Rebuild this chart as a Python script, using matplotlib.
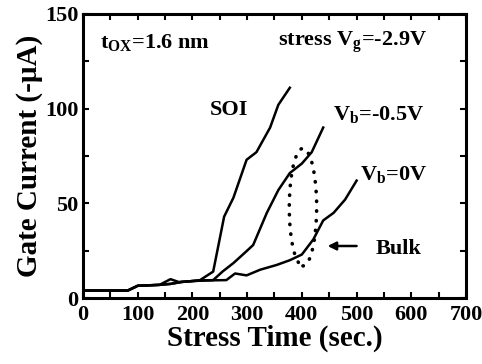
import matplotlib.pyplot as plt
from matplotlib.patches import Ellipse
from matplotlib.ticker import MultipleLocator
import numpy as np

################################################################################
# Data                                          #
################################################################################
soi_t = [0, 82, 100, 140, 150, 160, 175, 200, 214, 238, 258, 275, 299, 317, 342, 357, 378]
soi_i = [4, 4, 6.5, 7, 8.5, 10, 8.5, 9, 9.5, 14, 43, 53, 73, 77, 90, 102, 111]

vb05_t = [0, 82, 100, 140, 160, 180, 200, 220, 238, 255, 275, 296, 311, 336, 357, 378, 400, 418, 439]
vb05_i = [4, 4, 6.5, 7, 7.5, 8.5, 9, 9.3, 9.5, 14, 18.5, 24, 28, 45, 57, 66, 71, 77, 90]

vb0_t = [0, 82, 100, 140, 160, 180, 200, 220, 262, 278, 299, 324, 354, 378, 400, 421, 439, 458, 479, 500]
vb0_i = [4, 4, 6.5, 7, 7.5, 8.5, 9, 9.3, 9.5, 13, 12, 15, 17.5, 20, 23, 31, 41, 45, 52, 62]

################################################################################
# Figure                                                                       #
################################################################################
plt.rcParams['font.family'] = 'Liberation Serif'
plt.rcParams['font.weight'] = 'bold'
plt.rcParams['mathtext.fontset'] = 'custom'
plt.rcParams['mathtext.rm'] = 'Liberation Serif:bold'
plt.rcParams['mathtext.bf'] = 'Liberation Serif:bold'
plt.rcParams['mathtext.it'] = 'Liberation Serif:bold'

fig = plt.figure(figsize=(4.82, 3.64), dpi=100)
ax = fig.add_axes([0.172, 0.181, 0.795, 0.781])

ax.plot(soi_t, soi_i, color='black', lw=1.8)
ax.plot(vb05_t, vb05_i, color='black', lw=1.8)
ax.plot(vb0_t, vb0_i, color='black', lw=1.8)

# dotted ellipse round the Vb curves
ell = Ellipse((402, 48), 50, 62, fill=False, edgecolor='black', lw=2.6,
              linestyle=(0, (0.1, 2.6)), capstyle='round')
ax.add_patch(ell)

ax.set_xlim(0, 700)
ax.set_ylim(0, 150)
ax.xaxis.set_major_locator(MultipleLocator(100))
ax.xaxis.set_minor_locator(MultipleLocator(50))
ax.yaxis.set_major_locator(MultipleLocator(50))
ax.yaxis.set_minor_locator(MultipleLocator(25))
ax.tick_params(which='both', direction='in', top=True, right=True, width=1.5, length=4,
               labelsize=16)
ax.tick_params(axis='x', pad=5)
ax.tick_params(axis='y', pad=3)
for s in ax.spines.values():
    s.set_linewidth(2.2)

ax.set_xlabel('Stress Time (sec.)', fontsize=21, fontweight='bold', labelpad=0)
ax.set_ylabel('Gate Current (-\u03bcA)', fontsize=21, fontweight='bold', labelpad=2)

ax.text(31, 135, 't$_{\\mathrm{OX}}$=1.6 nm', fontsize=16, va='center', ha='left')
ax.text(357, 135, 'stress V$_{\\mathrm{g}}$=-2.9V', fontsize=16, va='center', ha='left')
ax.text(267, 99, 'SOI', fontsize=16, va='center', ha='center')
ax.text(457, 97, 'V$_{\\mathrm{b}}$=-0.5V', fontsize=16, va='center', ha='left')
ax.text(506, 65, 'V$_{\\mathrm{b}}$=0V', fontsize=16, va='center', ha='left')
ax.text(534, 26, 'Bulk', fontsize=16, va='center', ha='left')
ax.annotate('', xy=(442, 27.5), xytext=(505, 27.5),
            arrowprops=dict(arrowstyle='-|>', color='black', lw=1.8, mutation_scale=12))

plt.savefig('out.png', dpi=100)
